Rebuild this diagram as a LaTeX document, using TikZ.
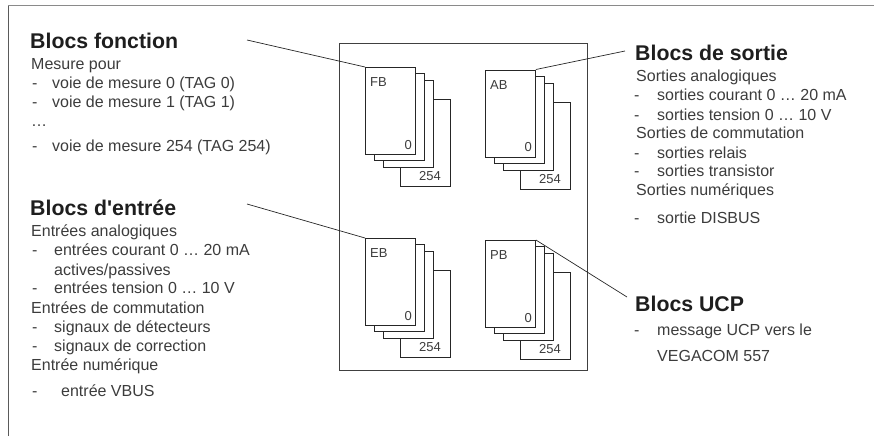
\documentclass[tikz,border=0pt]{standalone}
\usepackage{fontspec}
\setmainfont{Liberation Sans}
\definecolor{bodytxt}{HTML}{3C3C3C}
\definecolor{titletxt}{HTML}{1E1E1E}
\definecolor{framegray}{HTML}{8A8A8A}
\definecolor{framedark}{HTML}{5A5A5A}
\tikzset{
  txt/.style={inner sep=0pt, anchor=base west, text=bodytxt, font=\fontsize{16}{19}\selectfont},
  ttl/.style={inner sep=0pt, anchor=base west, text=titletxt, font=\fontsize{21.3}{25}\selectfont\bfseries},
  sheet/.style={draw=black!85, fill=white, line width=0.9pt, minimum width=50pt, minimum height=87pt, inner sep=0pt, anchor=north west},
  boxlbl/.style={inner sep=0pt, text=bodytxt, font=\fontsize{13}{15}\selectfont},
  leader/.style={draw=black!85, line width=0.7pt},
  innerframe/.style={draw=black!75, line width=0.9pt, minimum width=248pt, minimum height=327pt, inner sep=0pt, anchor=north west}
}
\newcommand\blockstack[4]{%
  \begin{scope}[shift={(#2,#3)}]
    \node[sheet] (#1d) at (35,32) {};
    \node[sheet] (#1c) at (18,13) {};
    \node[sheet] (#1b) at (9,6) {};
    \node[sheet] (#1a) at (0,0) {};
    \node[boxlbl, anchor=base west] (#1lbl) at (5,19.7) {#4};
    \node[boxlbl, anchor=base east] (#1zero) at (47,82) {0};
    \node[boxlbl, anchor=base east] (#1last) at (76,113.7) {254};
  \end{scope}}
\begin{document}
\begin{tikzpicture}[x=1pt,y=-1pt]
\useasboundingbox (0,0) rectangle (874,436);
% outer frame
\coordinate (obl) at (8.3,436);
\coordinate (otl) at (8.3,5.3);
\coordinate (otr) at (874,5.3);
\draw[framedark, line width=1.2pt] (obl) -- (otl);
\draw[framegray, line width=1.5pt] (otl) -- (otr);
% inner frame
\node[innerframe] (frame) at (339,43) {};
% stacks
\blockstack{FB}{365}{67}{FB}
\blockstack{AB}{485}{69.5}{AB}
\blockstack{EB}{365}{238}{EB}
\blockstack{PB}{485}{240}{PB}

% Left: Blocs fonction
\node[ttl] (tF) at (30,48.3) {Blocs fonction};
\node[txt] (f1) at (31,70) {Mesure pour};
\node[txt] (f2d) at (32,88.5) {-};
\node[txt] (f2) at (52,88.5) {voie de mesure 0 (TAG 0)};
\node[txt] (f3d) at (32,107.5) {-};
\node[txt] (f3) at (52,107.5) {voie de mesure 1 (TAG 1)};
\node[txt] (f4) at (31,126) {…};
\node[txt] (f5d) at (32,151.5) {-};
\node[txt] (f5) at (52,151.5) {voie de mesure 254 (TAG 254)};

% Left: Blocs d'entree
\node[ttl] (tE) at (30,215) {Blocs d\textquotesingle entrée};
\node[txt] (e1) at (31,236.7) {Entrées analogiques};
\node[txt] (e2d) at (32,255.7) {-};
\node[txt] (e2) at (54,255.7) {entrées courant 0 … 20 mA};
\node[txt] (e3) at (54,275) {actives/passives};
\node[txt] (e4d) at (32,293.3) {-};
\node[txt] (e4) at (54,293.3) {entrées tension 0 … 10 V};
\node[txt] (e5) at (31,313.3) {Entrées de commutation};
\node[txt] (e6d) at (32,332.7) {-};
\node[txt] (e6) at (54,332.7) {signaux de détecteurs};
\node[txt] (e7d) at (32,351.7) {-};
\node[txt] (e7) at (54,351.7) {signaux de correction};
\node[txt] (e8) at (31,370) {Entrée numérique};
\node[txt] (e9d) at (32,396.7) {-};
\node[txt] (e9) at (61,396.7) {entrée VBUS};

% Right: Blocs de sortie
\node[ttl] (tS) at (635,60) {Blocs de sortie};
\node[txt] (s1) at (636,81.7) {Sorties analogiques};
\node[txt] (s2d) at (634,100) {-};
\node[txt] (s2) at (657,100) {sorties courant 0 … 20 mA};
\node[txt] (s3d) at (634,120) {-};
\node[txt] (s3) at (657,120) {sorties tension 0 … 10 V};
\node[txt] (s4) at (636,138.3) {Sorties de commutation};
\node[txt] (s5d) at (634,158) {-};
\node[txt] (s5) at (657,158) {sorties relais};
\node[txt] (s6d) at (634,176.7) {-};
\node[txt] (s6) at (657,176.7) {sorties transistor};
\node[txt] (s7) at (636,195) {Sorties numériques};
\node[txt] (s8d) at (634,223.3) {-};
\node[txt] (s8) at (657,223.3) {sortie DISBUS};

% Right: Blocs UCP
\node[ttl] (tU) at (635,311.7) {Blocs UCP};
\node[txt] (u1d) at (634,335) {-};
\node[txt] (u1) at (657,335) {message UCP vers le};
\node[txt] (u2) at (657,361.7) {VEGACOM 557};

% leader lines
\coordinate (lF) at (247,40);
\coordinate (lE) at (247,204);
\coordinate (lS) at (625,51);
\coordinate (lU) at (627,297);
\draw[leader] (lF) -- (FBa.north west);
\draw[leader] (lE) -- (EBa.north west);
\draw[leader] (lS) -- (ABa.north east);
\draw[leader] (PBa.north east) -- (lU);
\end{tikzpicture}
\end{document}
